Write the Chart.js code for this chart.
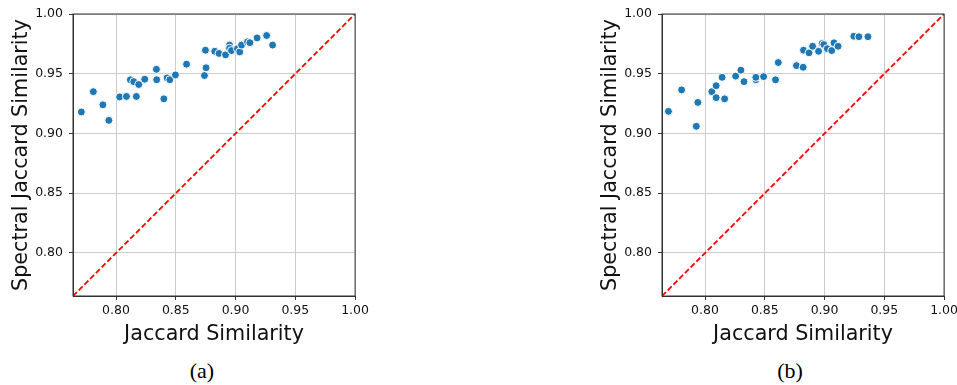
<!DOCTYPE html>
<html lang="en">
<head>
    <meta charset="UTF-8">
    <title>Jaccard vs Spectral Jaccard Similarity</title>
    <style>
        body {
            margin: 0;
            padding: 0;
            background: #fff;
            width: 957px;
            height: 385px;
            overflow: hidden;
            position: relative;
        }
        canvas {
            position: absolute;
            top: 0;
        }
        #chartA { left: 0; }
        #chartB { left: 589px; }
        .caption {
            position: absolute;
            top: 360px;
            width: 120px;
            text-align: center;
            font-family: "Liberation Serif", "Times New Roman", serif;
            font-size: 22px;
            line-height: 22px;
            color: #000;
        }
    </style>
    <script src="https://cdn.jsdelivr.net/npm/chart.js"></script>
</head>
<body>
    <canvas id="chartA" width="372" height="347"></canvas>
    <canvas id="chartB" width="372" height="347"></canvas>
    <div class="caption" style="left: 142px;">(a)</div>
    <div class="caption" style="left: 730px;">(b)</div>

    <script>
        // Panel (a)
        const jaccardA = [0.771, 0.781, 0.789, 0.794, 0.803, 0.8087, 0.817, 0.812, 0.8148, 0.819,
                          0.824, 0.8338, 0.834, 0.840, 0.8427, 0.845, 0.8497, 0.859, 0.874, 0.8753,
                          0.8748, 0.8826, 0.8862, 0.8916, 0.895, 0.895, 0.8966, 0.9016, 0.9035, 0.905,
                          0.910, 0.912, 0.918, 0.926, 0.931];
        const spectralA = [0.918, 0.935, 0.924, 0.911, 0.9306, 0.931, 0.931, 0.9449, 0.9434, 0.941,
                           0.9454, 0.9537, 0.945, 0.929, 0.9465, 0.945, 0.949, 0.958, 0.9485, 0.955,
                           0.9697, 0.9688, 0.967, 0.9658, 0.974, 0.9713, 0.9694, 0.971, 0.9683, 0.974,
                           0.9767, 0.976, 0.980, 0.982, 0.974];

        // Panel (b)
        const jaccardB = [0.7694, 0.7804, 0.794, 0.7927, 0.8057, 0.8093, 0.8093, 0.8164, 0.8143, 0.8256,
                          0.830, 0.8326, 0.8425, 0.8425, 0.849, 0.859, 0.8613, 0.8765, 0.8821, 0.8824,
                          0.887, 0.890, 0.895, 0.898, 0.8994, 0.9023, 0.906, 0.9079, 0.9113, 0.9245,
                          0.9287, 0.9363];
        const spectralB = [0.9185, 0.9365, 0.926, 0.906, 0.935, 0.940, 0.930, 0.929, 0.947, 0.948,
                           0.953, 0.9434, 0.945, 0.947, 0.9476, 0.9449, 0.9594, 0.9568, 0.9554, 0.9697,
                           0.9675, 0.973, 0.9688, 0.9753, 0.9744, 0.971, 0.9694, 0.9759, 0.973, 0.9814,
                           0.981, 0.981];

        // y = x reference line and axis ticks
        const diagonal = [0.764, 1.0];
        const tickValues = [0.80, 0.85, 0.90, 0.95, 1.00];
        const axisMin = 0.764;
        const axisMax = 1.0;

        // draws the top/right spines so the plot has a full box
        const framePlugin = {
            id: 'frame',
            afterDraw(chart) {
                const a = chart.chartArea;
                const ctx = chart.ctx;
                ctx.save();
                ctx.strokeStyle = '#333';
                ctx.lineWidth = 1;
                ctx.strokeRect(a.left, a.top, a.right - a.left, a.bottom - a.top);
                ctx.restore();
            }
        };

        function setTicks(scale) {
            scale.ticks = tickValues.map(v => ({ value: v }));
        }

        function makeChart(id, xs, ys) {
            const points = xs.map((x, i) => ({ x: x, y: ys[i] }));
            const line = diagonal.map(v => ({ x: v, y: v }));
            const font = { family: 'DejaVu Sans', size: 12.5 };
            const titleFont = { family: 'DejaVu Sans', size: 20.7 };

            return new Chart(document.getElementById(id), {
                type: 'scatter',
                data: {
                    datasets: [{
                        data: points,
                        pointRadius: 4,
                        pointHoverRadius: 4,
                        pointBackgroundColor: '#1f77b4',
                        pointBorderColor: '#ffffff',
                        pointBorderWidth: 1
                    }, {
                        data: line,
                        showLine: true,
                        pointRadius: 0,
                        borderColor: '#ff0000',
                        borderWidth: 1.8,
                        borderDash: [5.5, 2.6],
                        fill: false
                    }]
                },
                options: {
                    responsive: false,
                    animation: false,
                    layout: { padding: { top: 14, right: 14, bottom: 0, left: 0 } },
                    plugins: {
                        legend: { display: false },
                        tooltip: { enabled: false }
                    },
                    scales: {
                        x: {
                            type: 'linear',
                            min: axisMin,
                            max: axisMax,
                            afterBuildTicks: setTicks,
                            afterFit: s => { s.height = 51; },
                            grid: { color: '#cccccc', tickColor: '#333', tickLength: 4 },
                            border: { color: '#333', width: 1 },
                            ticks: {
                                font: font,
                                color: '#111',
                                padding: 3,
                                maxRotation: 0,
                                callback: v => v.toFixed(2)
                            },
                            title: {
                                display: true,
                                text: 'Jaccard Similarity',
                                font: titleFont,
                                color: '#111',
                                padding: 0
                            }
                        },
                        y: {
                            type: 'linear',
                            min: axisMin,
                            max: axisMax,
                            afterBuildTicks: setTicks,
                            afterFit: s => { s.width = 73; },
                            grid: { color: '#cccccc', tickColor: '#333', tickLength: 4 },
                            border: { color: '#333', width: 1 },
                            ticks: {
                                font: font,
                                color: '#111',
                                padding: 6,
                                callback: v => v.toFixed(2)
                            },
                            title: {
                                display: true,
                                text: 'Spectral Jaccard Similarity',
                                font: titleFont,
                                color: '#111',
                                padding: { top: 9, bottom: 0 }
                            }
                        }
                    }
                },
                plugins: [framePlugin]
            });
        }

        makeChart('chartA', jaccardA, spectralA);
        makeChart('chartB', jaccardB, spectralB);
    </script>
</body>
</html>
